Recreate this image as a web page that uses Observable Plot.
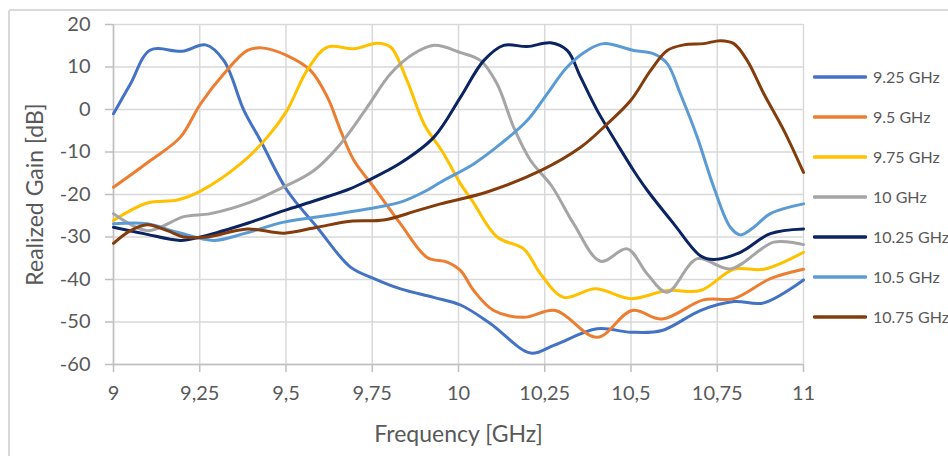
<!DOCTYPE html>
<html>
<head>
<meta charset="utf-8">
<script src="https://cdn.jsdelivr.net/npm/d3@7"></script>
<script src="https://cdn.jsdelivr.net/npm/@observablehq/plot@0.6"></script>
<style>
  html, body { margin: 0; padding: 0; background: #fff; overflow: hidden; }
  #wrap { position: relative; width: 948px; height: 456px; overflow: hidden; font-family: Lato, "Open Sans", sans-serif; }
  #frame { position: absolute; left: 8px; top: 9px; width: 1000px; height: 500px; border: 2px solid #d9d9d9; border-radius: 3px; box-sizing: border-box; }
  #chart { position: absolute; left: 0; top: 0; }
  #legend { position: absolute; left: 813px; top: 0; }
  .item { position: absolute; left: 0; height: 20px; display: flex; align-items: center; white-space: nowrap; }
  .item svg { display: block; }
  .item span { margin-left: 6px; font-size: 16px; color: #595959; }
</style>
</head>
<body>
<div id="wrap">
  <div id="frame"></div>
  <div id="chart"></div>
  <div id="legend"></div>
</div>
<script>
// Realized gain versus frequency, one curve per design frequency
const seriesNames = ["9.25 GHz", "9.5 GHz", "9.75 GHz", "10 GHz", "10.25 GHz", "10.5 GHz", "10.75 GHz"];
const seriesColors = ["#4472c4", "#ed7d31", "#ffc000", "#a5a5a5", "#0b2461", "#5b9bd5", "#843c0c"];

const xTicks = [9, 9.25, 9.5, 9.75, 10, 10.25, 10.5, 10.75, 11];
const xTickLabels = ["9", "9,25", "9,5", "9,75", "10", "10,25", "10,5", "10,75", "11"];
const yTicks = [-60, -50, -40, -30, -20, -10, 0, 10, 20];

const f925 = [9.0, 9.049, 9.107, 9.199, 9.267, 9.32, 9.378, 9.426, 9.503, 9.59, 9.687, 9.75, 9.832, 9.928, 10.006, 10.093, 10.209, 10.276, 10.402, 10.499, 10.59, 10.701, 10.798, 10.885, 11.0];
const g925 = [-1.0, 6.0, 14.0, 13.7, 15.2, 11.5, -0.2, -7.3, -19.0, -27.7, -37.1, -39.6, -42.2, -44.2, -46.0, -50.4, -57.3, -55.5, -51.6, -52.4, -52.0, -47.3, -45.2, -45.5, -40.1];

const f95 = [9.0, 9.107, 9.194, 9.252, 9.32, 9.388, 9.43, 9.503, 9.571, 9.62, 9.658, 9.697, 9.755, 9.832, 9.909, 9.967, 10.006, 10.044, 10.102, 10.189, 10.281, 10.402, 10.503, 10.59, 10.71, 10.798, 10.904, 11.0];
const g95 = [-18.3, -12.0, -6.5, 1.3, 8.4, 13.9, 14.5, 12.7, 9.2, 2.9, -4.9, -12.0, -18.3, -26.9, -34.8, -35.9, -37.9, -42.6, -47.3, -48.9, -47.3, -53.6, -47.3, -49.3, -44.8, -44.5, -39.8, -37.6];

const f975 = [9.0, 9.098, 9.185, 9.252, 9.368, 9.446, 9.503, 9.561, 9.62, 9.697, 9.764, 9.803, 9.851, 9.9, 9.957, 10.006, 10.04, 10.112, 10.189, 10.238, 10.305, 10.397, 10.499, 10.605, 10.701, 10.798, 10.885, 11.0];
const g975 = [-26.1, -22.0, -21.3, -19.2, -12.8, -6.5, -0.2, 9.2, 14.7, 14.3, 15.6, 14.7, 6.8, -3.4, -10.4, -17.5, -21.5, -30.0, -32.8, -38.7, -44.2, -42.2, -44.5, -42.6, -42.6, -37.6, -37.6, -33.6];

const f10 = [9.0, 9.098, 9.204, 9.281, 9.397, 9.484, 9.58, 9.658, 9.735, 9.803, 9.87, 9.93, 10.006, 10.064, 10.112, 10.16, 10.209, 10.27, 10.334, 10.412, 10.489, 10.547, 10.605, 10.692, 10.788, 10.914, 11.0];
const g10 = [-24.5, -28.5, -25.2, -24.5, -21.8, -18.6, -14.4, -8.1, 0.5, 8.4, 13.1, 15.1, 13.4, 11.5, 6.0, -4.2, -12.0, -18.0, -26.9, -35.7, -32.8, -38.7, -43.0, -35.1, -37.5, -31.2, -31.8];

const f1025 = [9.0, 9.088, 9.194, 9.252, 9.368, 9.494, 9.59, 9.687, 9.735, 9.832, 9.929, 10.006, 10.073, 10.131, 10.199, 10.267, 10.315, 10.354, 10.402, 10.46, 10.508, 10.547, 10.624, 10.701, 10.74, 10.817, 10.904, 11.0];
const g1025 = [-27.7, -29.2, -30.8, -30.0, -27.3, -23.8, -21.3, -18.6, -16.8, -12.6, -6.5, 2.9, 11.5, 15.1, 14.8, 15.7, 13.9, 7.6, -0.2, -8.1, -14.4, -19.0, -26.9, -34.4, -35.3, -33.6, -29.2, -28.1];

const f105 = [9.0, 9.098, 9.185, 9.291, 9.378, 9.494, 9.639, 9.735, 9.832, 9.909, 9.948, 10.044, 10.122, 10.199, 10.257, 10.315, 10.373, 10.421, 10.508, 10.566, 10.605, 10.643, 10.692, 10.74, 10.788, 10.817, 10.856, 10.904, 11.0];
const g105 = [-26.9, -26.9, -28.9, -30.8, -29.2, -26.5, -24.7, -23.4, -21.8, -19.0, -17.1, -12.8, -8.1, -2.6, 3.7, 10.0, 13.9, 15.5, 13.9, 13.1, 10.8, 3.7, -6.5, -18.3, -27.7, -29.5, -27.7, -24.5, -22.2];

const f1075 = [9.0, 9.049, 9.098, 9.156, 9.204, 9.272, 9.388, 9.494, 9.59, 9.687, 9.783, 9.88, 9.948, 10.083, 10.238, 10.354, 10.431, 10.499, 10.557, 10.605, 10.653, 10.711, 10.759, 10.798, 10.837, 10.885, 10.943, 11.0];
const g1075 = [-31.5, -28.5, -27.1, -28.5, -30.0, -30.0, -28.1, -29.1, -27.7, -26.3, -26.0, -23.8, -22.2, -19.4, -14.4, -8.9, -3.4, 2.1, 9.2, 13.9, 15.2, 15.5, 16.2, 15.5, 11.5, 3.7, -4.9, -14.8];

const freqs = [f925, f95, f975, f10, f1025, f105, f1075];
const gains = [g925, g95, g975, g10, g1025, g105, g1075];

// long-format rows for the line mark
const rows = [];
seriesNames.forEach((name, i) => {
  freqs[i].forEach((f, j) => rows.push({series: name, f, g: gains[i][j]}));
});

const labelOf = new Map(xTicks.map((t, i) => [t, xTickLabels[i]]));
const gridStyle = {stroke: "#d9d9d9", strokeOpacity: 1, strokeWidth: 1.5};
const textStyle = {fill: "#595959", fontFamily: "Lato, 'Open Sans', sans-serif"};

const chart = Plot.plot({
  width: 948,
  height: 456,
  marginLeft: 113,
  marginRight: 145,
  marginTop: 24,
  marginBottom: 92,
  x: {domain: [9, 11]},
  y: {domain: [-60, 20]},
  color: {domain: seriesNames, range: seriesColors},
  style: {background: "transparent", overflow: "visible", fontFamily: "Lato, 'Open Sans', sans-serif"},
  marks: [
    Plot.gridX(xTicks, gridStyle),
    Plot.gridY(yTicks, gridStyle),
    Plot.ruleX([9], {stroke: "#bfbfbf", strokeWidth: 1.5}),
    Plot.ruleY([-60], {stroke: "#bfbfbf", strokeWidth: 1.5}),
    Plot.axisX(xTicks, {
      tickSize: 8, tickPadding: 13, stroke: "#bfbfbf", strokeWidth: 1.5,
      tickFormat: (d) => labelOf.get(d), fontSize: 20, label: null, ...textStyle
    }),
    Plot.axisY(yTicks, {
      tickSize: 8, tickPadding: 15, stroke: "#bfbfbf", strokeWidth: 1.5,
      tickFormat: (d) => String(d), fontSize: 20, label: null, ...textStyle
    }),
    Plot.line(rows, {
      x: "f", y: "g", z: "series", stroke: "series",
      strokeWidth: 3, curve: "catmull-rom", strokeLinecap: "round", strokeLinejoin: "round"
    }),
    Plot.text(["Frequency [GHz]"], {frameAnchor: "bottom", dy: 70, fontSize: 23, lineAnchor: "middle", textAnchor: "middle", ...textStyle}),
    Plot.text(["Realized Gain [dB]"], {frameAnchor: "left", dx: -78, rotate: -90, fontSize: 23, lineAnchor: "middle", textAnchor: "middle", ...textStyle})
  ]
});
document.getElementById("chart").appendChild(chart);

// legend on the right: a short line sample and the series name per row
const legend = document.getElementById("legend");
seriesNames.forEach((name, i) => {
  const item = document.createElement("div");
  item.className = "item";
  item.style.top = (66.7 + i * 40) + "px";
  item.innerHTML = `<svg width="54" height="6"><line x1="1.5" y1="3" x2="52.5" y2="3" stroke="${seriesColors[i]}" stroke-width="3.5" stroke-linecap="round"/></svg><span>${name}</span>`;
  legend.appendChild(item);
});
</script>
</body>
</html>
